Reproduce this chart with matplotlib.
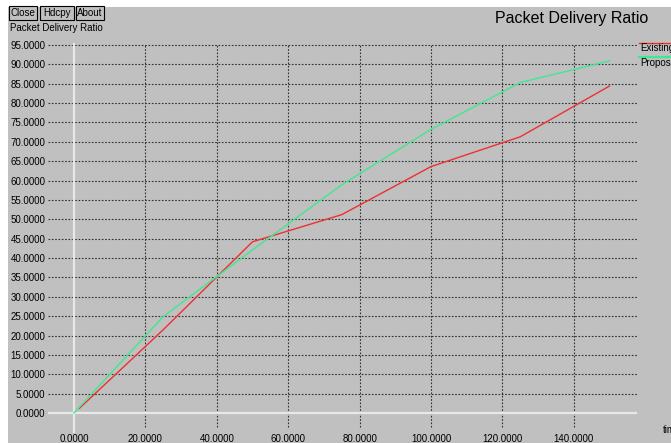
import matplotlib
matplotlib.use("Agg")
import matplotlib.pyplot as plt
from matplotlib.patches import Rectangle

# ---- data ----
existing_x = [1.5, 25, 50, 75, 100, 125, 150]
existing_y = [1.2, 21.5, 44.2, 51.2, 63.6, 71.3, 84.4]
proposed_x = [0, 25, 50, 75, 100, 125, 150]
proposed_y = [0.0, 24.9, 42.1, 58.9, 73.2, 85.3, 90.9]
x_ticks = [0, 20, 40, 60, 80, 100, 120, 140]
y_ticks = list(range(0, 100, 5))
series_names = ["Existing", "Proposed"]
title = "Packet Delivery Ratio"
ylabel = "Packet Delivery Ratio"
xlabel = "time"
buttons = ["Close", "Hdcpy", "About"]

W, H = 671, 443
fig = plt.figure(figsize=(W / 100, H / 100), dpi=100)
fig.patch.set_facecolor("white")
FONT = "Liberation Sans"
BG = "#c0c0c0"
RED = "#ee3030"
GREEN = "#40e890"
GRID = "#303030"

def fx(px):
    return px / W

def fy(py):
    return 1 - py / H

# grey window background
fig.patches.append(Rectangle((fx(8), 0), 1 - fx(8), fy(7), transform=fig.transFigure,
                             facecolor=BG, edgecolor="none", zorder=-10))

# buttons
btn_px = [(9, 37), (40, 74), (76, 104)]
for name, (x0, x1) in zip(buttons, btn_px):
    fig.patches.append(Rectangle((fx(x0), fy(20)), fx(x1) - fx(x0), fy(6) - fy(20),
                                 transform=fig.transFigure, facecolor=BG,
                                 edgecolor="black", linewidth=0.8, zorder=1))
    fig.text(fx((x0 + x1) / 2), fy(13.5), name, ha="center", va="center",
             fontsize=7, family=FONT, color="black")

fig.text(fx(10), fy(28), ylabel, ha="left", va="center", fontsize=7, family=FONT)
fig.text(fx(648), fy(18), title, ha="right", va="center", fontsize=11.5, family=FONT)

# axes mapping
x0px, x1px, xscale = 48, 637, 3.57   # pixels per unit
zero_x = 74
y_zero = 413
yscale = 3.874
bottom_px = 433
xmin = (x0px - zero_x) / xscale
xmax = (x1px - zero_x) / xscale
ymin = (y_zero - bottom_px) / yscale
ymax = (y_zero - 43) / yscale

ax = fig.add_axes([fx(x0px), fy(bottom_px), fx(x1px) - fx(x0px), fy(43) - fy(bottom_px)])
ax.set_zorder(5)
ax.set_facecolor("none")
ax.set_xlim(xmin, xmax)
ax.set_ylim(ymin, ymax)
for s in ax.spines.values():
    s.set_visible(False)

# grid
for yv in y_ticks:
    if yv == 0:
        continue
    ax.plot([xmin, xmax], [yv, yv], color=GRID, lw=0.8, ls=(0, (1.5, 1.5)), zorder=1)
vgrid_bottom = (y_zero - 427) / yscale
for xv in x_ticks:
    if xv == 0:
        continue
    ax.plot([xv, xv], [vgrid_bottom, 95], color=GRID, lw=0.8, ls=(0, (1.5, 1.5)), zorder=1)
ax.plot([xmin, xmax], [0, 0], color="#e8e8e8", lw=1.6, zorder=2)
ax.plot([0, 0], [ymin, 95.5], color="#e8e8e8", lw=1.6, zorder=2)

ax.plot(existing_x, existing_y, color=RED, lw=1.0, zorder=3)
ax.plot(proposed_x, proposed_y, color=GREEN, lw=1.0, zorder=3)

ax.set_yticks(y_ticks)
ax.set_yticklabels([f"{v:.4f}" for v in y_ticks], fontsize=7, family=FONT)
ax.set_xticks(x_ticks)
ax.set_xticklabels([f"{v:.4f}" for v in x_ticks], fontsize=7, family=FONT)
ax.tick_params(axis="y", length=0, pad=2)
ax.tick_params(axis="x", length=0, pad=1)

# legend (outside, clipped at right edge as in the reference)
fig.lines.append(plt.Line2D([fx(639), 1], [fy(43), fy(43)], transform=fig.transFigure,
                            color=RED, lw=1.0))
fig.text(fx(640), fy(48), series_names[0], ha="left", va="center", fontsize=7, family=FONT)
fig.lines.append(plt.Line2D([fx(639), 1], [fy(57), fy(57)], transform=fig.transFigure,
                            color=GREEN, lw=1.6))
fig.text(fx(640), fy(63), series_names[1], ha="left", va="center", fontsize=7, family=FONT)

fig.text(fx(663), fy(430), xlabel, ha="left", va="center", fontsize=7, family=FONT)

fig.savefig("out.png", dpi=100, facecolor=fig.get_facecolor())
